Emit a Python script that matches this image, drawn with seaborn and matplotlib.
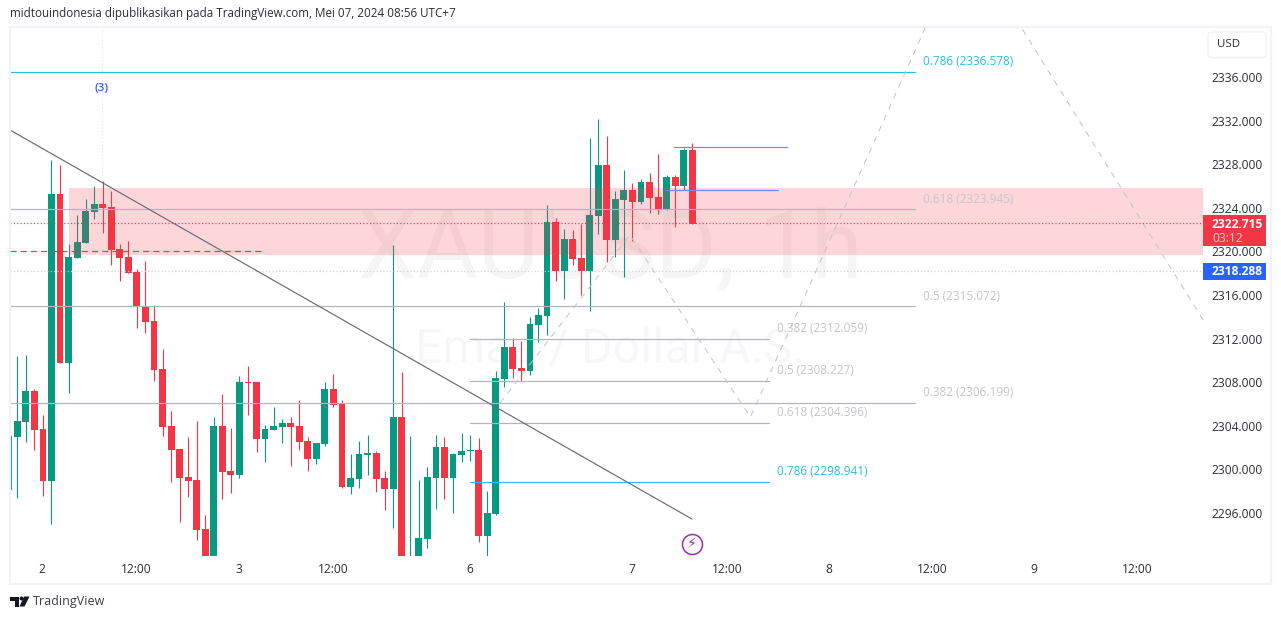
import numpy as np
import pandas as pd
import matplotlib
matplotlib.use("Agg")
import matplotlib.pyplot as plt
from matplotlib.patches import Rectangle, Polygon, FancyBboxPatch
from matplotlib.transforms import ScaledTranslation
import seaborn as sns

# ---------- data (prices) ----------
opens = [2298.20, 2303.06, 2304.44, 2307.29, 2303.80, 2299.03, 2325.36, 2309.85, 2319.49, 2320.86,
         2323.71, 2324.44, 2324.16, 2320.31, 2319.58, 2318.20, 2315.08, 2313.71, 2309.30, 2304.07,
         2301.96, 2299.39, 2299.12, 2294.62, 2291.50, 2304.07, 2299.94, 2299.58, 2308.11, 2308.11,
         2302.88, 2303.71, 2303.98, 2304.35, 2304.07, 2302.70, 2301.05, 2302.42, 2307.47, 2306.09,
         2298.48, 2299.21, 2301.41, 2301.60, 2299.30, 2298.29, 2304.90, 2291.00, 2291.50, 2293.71,
         2299.30, 2302.15, 2299.30, 2301.41, 2301.78, 2301.87, 2293.98, 2296.00, 2308.38, 2311.32,
         2309.39, 2309.12, 2313.34, 2314.16, 2322.78, 2318.29, 2321.23, 2319.48, 2318.29, 2323.34,
         2328.01, 2321.13, 2324.80, 2325.72, 2324.62, 2326.45, 2325.08, 2323.89, 2326.91, 2326.09,
         2329.39]
highs = [2303.16, 2310.50, 2310.59, 2307.47, 2305.08, 2328.48, 2328.02, 2320.77, 2323.43, 2324.90,
         2326.09, 2326.55, 2325.63, 2320.77, 2321.05, 2318.48, 2319.21, 2315.17, 2311.14, 2305.45,
         2301.96, 2303.06, 2304.53, 2295.91, 2304.90, 2307.01, 2303.89, 2308.66, 2309.58, 2308.11,
         2304.17, 2305.82, 2304.72, 2304.90, 2306.46, 2303.07, 2302.51, 2308.11, 2308.84, 2306.46,
         2301.50, 2302.70, 2303.25, 2301.78, 2299.94, 2320.68, 2309.03, 2303.16, 2299.12, 2300.31,
         2303.25, 2303.07, 2301.60, 2303.43, 2303.25, 2302.97, 2298.11, 2309.12, 2315.45, 2312.14,
         2311.87, 2314.07, 2314.89, 2324.34, 2323.15, 2322.14, 2322.05, 2322.60, 2330.49, 2332.23,
         2330.68, 2325.63, 2327.56, 2326.36, 2326.73, 2327.28, 2329.02, 2327.10, 2327.10, 2329.57,
         2330.03]
lows = [2298.20, 2297.47, 2302.61, 2301.87, 2297.65, 2295.08, 2309.85, 2307.10, 2319.49, 2320.86,
        2323.07, 2321.78, 2318.85, 2317.38, 2318.11, 2313.07, 2312.60, 2308.20, 2303.16, 2298.94,
        2295.27, 2297.56, 2293.62, 2291.50, 2291.50, 2297.38, 2297.93, 2299.30, 2305.08, 2301.69,
        2300.77, 2303.71, 2302.51, 2300.41, 2301.87, 2299.94, 2300.59, 2302.24, 2305.82, 2298.39,
        2297.84, 2298.39, 2299.58, 2298.02, 2296.37, 2294.72, 2291.50, 2290.00, 2291.50, 2292.88,
        2296.46, 2297.38, 2296.09, 2300.77, 2300.86, 2293.43, 2292.00, 2295.91, 2307.65, 2308.47,
        2308.20, 2308.75, 2311.78, 2312.42, 2317.37, 2315.72, 2318.84, 2316.09, 2314.62, 2321.68,
        2319.12, 2319.57, 2317.74, 2321.04, 2324.44, 2323.61, 2323.52, 2323.89, 2322.33, 2325.72,
        2322.60]
closes = [2303.16, 2304.53, 2307.29, 2303.71, 2299.03, 2325.36, 2309.85, 2319.58, 2320.95, 2323.80,
          2324.44, 2324.07, 2320.22, 2319.49, 2318.11, 2314.99, 2313.61, 2309.21, 2303.98, 2301.87,
          2299.30, 2299.03, 2294.53, 2291.50, 2304.07, 2299.85, 2299.58, 2308.11, 2308.02, 2302.88,
          2303.80, 2304.07, 2304.35, 2303.98, 2302.61, 2301.05, 2302.51, 2307.47, 2306.00, 2298.48,
          2299.30, 2301.50, 2301.60, 2299.21, 2298.29, 2304.90, 2291.50, 2291.50, 2293.80, 2299.39,
          2302.15, 2299.30, 2301.50, 2301.78, 2301.87, 2293.98, 2296.09, 2308.48, 2311.32, 2309.30,
          2309.12, 2313.43, 2314.25, 2322.78, 2318.29, 2321.23, 2319.39, 2318.29, 2323.43, 2328.01,
          2321.13, 2324.89, 2325.72, 2324.62, 2326.45, 2324.99, 2323.89, 2326.91, 2326.09, 2329.39,
          2322.60]

price_ticks = [2296, 2300, 2304, 2308, 2312, 2316, 2320, 2324, 2328, 2332, 2336]
time_positions = [3.9, 14.9, 26.9, 38, 54, 72.9, 84.1, 96, 108.1, 120, 132.1]
time_labels = ["2", "12:00", "3", "12:00", "6", "7", "12:00", "8", "12:00", "9", "12:00"]

fib_long_levels = [0.786, 0.618, 0.5, 0.382]
fib_long_prices = [2336.578, 2323.945, 2315.072, 2306.199]
fib_short_levels = [0.382, 0.5, 0.618, 0.786]
fib_short_prices = [2312.059, 2308.227, 2304.396, 2298.941]

zone_low, zone_high = 2319.76, 2325.91
last_price = 2322.715
other_price = 2318.288
dash_price = 2320.10
blue_upper = 2329.64
blue_lower = 2325.70
trend_x = [0.145, 79.97]
trend_y = [2331.23, 2295.54]
zig1_x = [57.5, 72.7, 86.8, 112.0]
zig1_y = [2306.18, 2321.60, 2304.90, 2348.84]
zig2_x = [112.0, 139.8]
zig2_y = [2348.84, 2313.80]

# ---------- style ----------
W, H = 1281, 619
sns.set_theme(style="white")
FONT = "Open Sans"
plt.rcParams["font.family"] = [FONT, "DejaVu Sans"]
GREEN, RED, BLUE = "#089981", "#F23645", "#2962FF"
TEAL, GRAY, LABEL_GRAY = "#22C4DC", "#B2B5BE", "#C4C6CC"
TXT = "#2A2E39"
px = 0.72  # points per pixel at dpi 100

fig = plt.figure(figsize=(W / 100, H / 100), dpi=100, facecolor="white")
L, R, T, B = 10, 1203, 27, 556
ax = fig.add_axes([L / W, 1 - B / H, (R - L) / W, (B - T) / H], facecolor="white")
ax.set_xlim(0.145, 139.78)
ax.set_ylim(2292.15, 2340.68)
for s in ax.spines.values():
    s.set_visible(False)
ax.grid(False)


def fx(x):
    return x / W


def fy(y):
    return 1 - y / H


# ---------- watermark ----------
ax.text(0.5035, 0.575, "XAUUSD, 1h", transform=ax.transAxes, ha="center", va="center",
        fontsize=67.5, family="Roboto", color="#000000", alpha=0.04, zorder=0)
ax.text(0.5035, 0.391, "Emas / Dollar A.S.", transform=ax.transAxes, ha="center", va="center",
        fontsize=35, family="Roboto", color="#000000", alpha=0.03, zorder=0)

# ---------- candles ----------
df = pd.DataFrame({"open": opens, "high": highs, "low": lows, "close": closes})
df["idx"] = np.arange(len(df))
df["up"] = df["close"] >= df["open"]
colors = df["up"].map({True: GREEN, False: RED})
ax.vlines(df["idx"], df["low"], df["high"], colors=colors, lw=1 * px * 1.1, zorder=2)
ax.bar(df["idx"], (df["close"] - df["open"]).abs().clip(lower=0.09),
       bottom=df[["open", "close"]].min(axis=1), width=0.80, color=colors, linewidth=0, zorder=2)

# ---------- zone ----------
ax.add_patch(Rectangle((7.05, zone_low), 139.78 - 7.05, zone_high - zone_low,
                       facecolor=RED, alpha=0.2, edgecolor="none", zorder=3))


def line(xs, ys, color, lw=1.0, z=4, **kw):
    sns.lineplot(x=xs, y=ys, ax=ax, color=color, lw=lw * px, estimator=None, sort=False,
                 legend=False, zorder=z, **kw)


# ---------- fibonacci levels ----------
XE = 106.05
X0 = 0.145
for lev, p in zip(fib_long_levels, fib_long_prices):
    col = TEAL if lev == 0.786 else GRAY
    line([X0, XE], [p, p], col, 1.2)
    ax.annotate(f"{lev:g} ({p:.3f})", xy=(107.0, p), xytext=(0, 10 * px), textcoords="offset points",
                fontsize=11.7 * px, color=TEAL if lev == 0.786 else LABEL_GRAY, va="center", ha="left", zorder=5)
X1, X2 = 54.0, 89.0
for lev, p in zip(fib_short_levels, fib_short_prices):
    col = TEAL if lev == 0.786 else GRAY
    line([X1, X2], [p, p], col, 1.2)
    ax.annotate(f"{lev:g} ({p:.3f})", xy=(89.9, p), xytext=(0, 10 * px), textcoords="offset points",
                fontsize=11.7 * px, color=TEAL if lev == 0.786 else LABEL_GRAY, va="center", ha="left", zorder=5)

# ---------- other drawings ----------
line(trend_x, trend_y, "#6A6D78", 1.2, z=5)
line(zig1_x, zig1_y, "#C2C3CA", 1.0, z=4, linestyle=(0, (6, 6)))
line(zig2_x, zig2_y, "#C2C3CA", 1.0, z=4, linestyle=(0, (6, 6)))
line([X0, 30.0], [dash_price, dash_price], RED, 1.2, z=4, linestyle=(0, (5, 3.5)))
line([X0, 139.78], [last_price, last_price], RED, 1.2, z=4, linestyle=(0, (0.9, 1.9)))
line([X0, 139.78], [other_price, other_price], "#C9CBEE", 1.2, z=4, linestyle=(0, (0.9, 1.9)))
line([77.86, 91.1], [blue_upper, blue_upper], "#6C8BF5", 1.2, z=5)
line([76.9, 90.03], [blue_lower, blue_lower], "#6C8BF5", 1.2, z=5)
line([10.9, 10.9], [2326.5, 2340.68], "#E2E2EA", 1.2, z=1, linestyle=(0, (0.9, 1.9)))

ax.text(10.9, 2335.0, "(3)", color=BLUE, fontsize=11.5 * px, fontweight="semibold", ha="center", va="center", zorder=5)
ax.text(79.97, 2293.28, "\u26A1", family="DejaVu Sans", color="#9C27B0", fontsize=14 * px, ha="center", va="center",
        zorder=5)
ax.add_artist(plt.Line2D([79.97], [2293.28], marker="o", ms=20 * px, mfc="none", mec="#9C27B0", mew=1.5 * px,
                         ls="none", zorder=5))

# ---------- axes ticks ----------
ax.yaxis.tick_right()
ax.set_yticks(price_ticks)
ax.set_yticklabels([f"{v:.3f}" for v in price_ticks], fontsize=12 * px, color=TXT)
ax.set_xticks(time_positions)
ax.set_xticklabels(time_labels, fontsize=12 * px, color=TXT)
ax.tick_params(axis="y", length=0, pad=8 * px, right=False)
ax.tick_params(axis="x", length=0, pad=7 * px, bottom=False)
for lab in ax.get_yticklabels():
    lab.set_transform(lab.get_transform() + ScaledTranslation(0, 1 / 100, fig.dpi_scale_trans))

# ---------- frame & header ----------
fig.add_artist(Rectangle((fx(10), fy(584)), (1270.5 - 10) / W, (584 - 27) / H, transform=fig.transFigure,
                         fill=False, ec="#F0F3FA", lw=2.2 * px, zorder=6))
fig.text(fx(10), fy(14), "midtouindonesia dipublikasikan pada TradingView.com, Mei 07, 2024 08:56 UTC+7",
         fontsize=11.6 * px, color=TXT, ha="left", va="center")

# USD box
fig.add_artist(FancyBboxPatch((fx(1208), fy(57.5)), 58 / W, 25.5 / H, transform=fig.transFigure,
                              boxstyle="round,pad=0,rounding_size=0.003", fc="white", ec="#F0F3FA", lw=1.5 * px,
                              mutation_aspect=2.07))
fig.text(fx(1217), fy(44.5), "USD", fontsize=11.5 * px, color=TXT, ha="left", va="center")

# price tags
fig.add_artist(Rectangle((fx(1203), fy(246)), 63 / W, 31 / H, transform=fig.transFigure, fc=RED, ec="none", zorder=7))
fig.text(fx(1212), fy(224), f"{last_price:.3f}", fontsize=12 * px, color="white", fontweight="bold",
         ha="left", va="center", zorder=8)
fig.text(fx(1212), fy(238), "03:12", fontsize=12 * px, color="#FBC9CD", ha="left", va="center", zorder=8)
fig.add_artist(Rectangle((fx(1203), fy(280)), 63 / W, 17 / H, transform=fig.transFigure, fc=BLUE, ec="none", zorder=7))
fig.text(fx(1212), fy(271.5), f"{other_price:.3f}", fontsize=12 * px, color="white", fontweight="bold",
         ha="left", va="center", zorder=8)

# TradingView logo
logo = "#131722"
fig.add_artist(Polygon([(fx(a), fy(b)) for a, b in [(10, 596.5), (19, 596.5), (19, 606.5), (14.5, 606.5),
                                                    (14.5, 601), (10, 601)]],
                       transform=fig.transFigure, fc=logo, ec="none"))
fig.add_artist(Polygon([(fx(a), fy(b)) for a, b in [(24, 596.5), (29.5, 596.5), (24.5, 606.5), (19.5, 606.5)]],
                       transform=fig.transFigure, fc=logo, ec="none"))
fig.add_artist(Polygon([(fx(21.5 + 2 * np.cos(t)), fy(598.5 + 2 * np.sin(t))) for t in np.linspace(0, 6.28, 16)],
                       transform=fig.transFigure, fc=logo, ec="none"))
fig.text(fx(33), fy(601.5), "TradingView", fontsize=12.5 * px, color="#3A3E49", ha="left", va="center")

fig.savefig("out.png", dpi=100, facecolor="white")
